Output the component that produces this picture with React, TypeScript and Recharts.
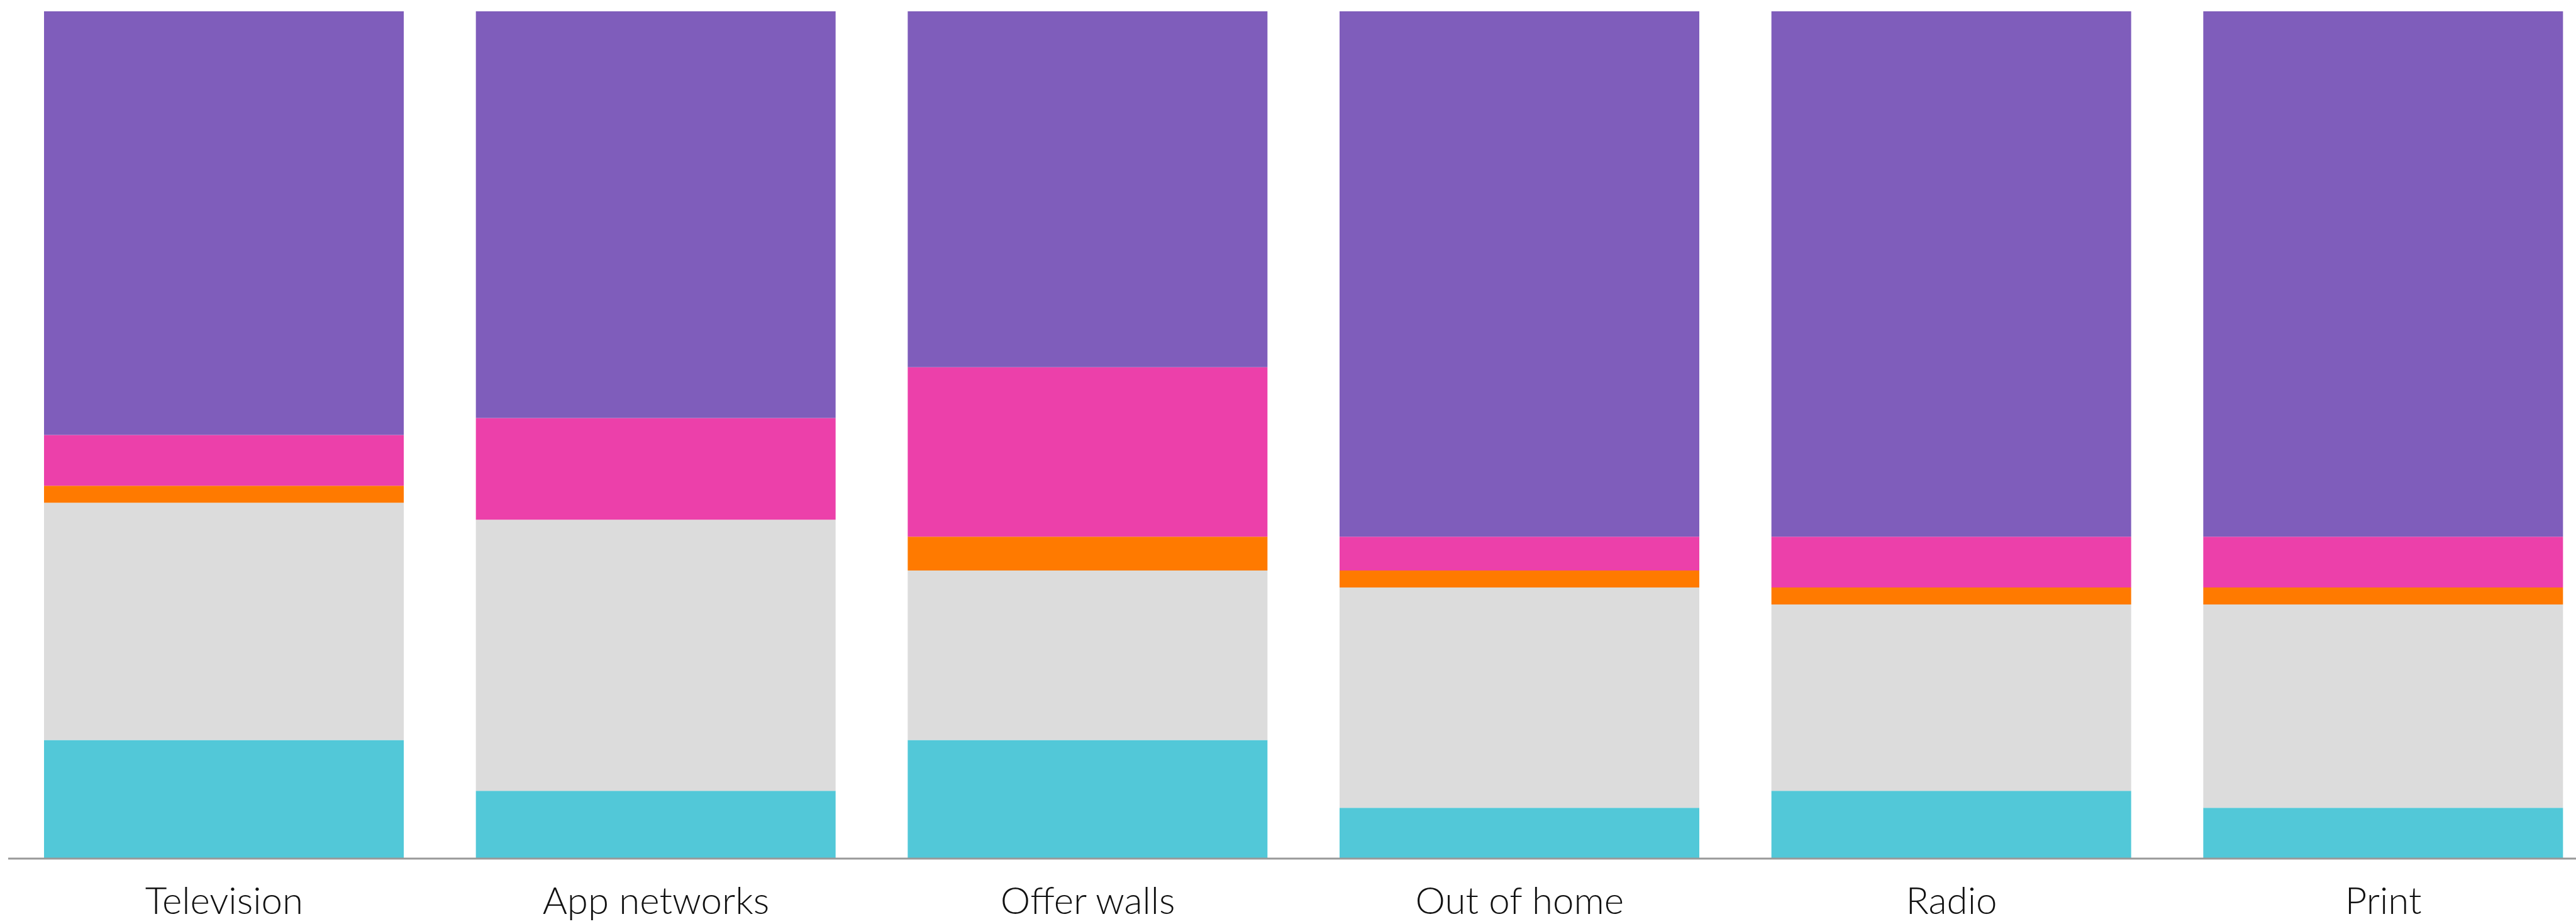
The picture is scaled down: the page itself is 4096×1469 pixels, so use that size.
import React from 'react';
import { BarChart, Bar, XAxis, YAxis } from 'recharts';

// channels along the x axis
const categories = ['Television', 'App networks', 'Offer walls', 'Out of home', 'Radio', 'Print'];

// stacked shares (percent), bottom to top
const cyanValues = [14, 8, 14, 6, 8, 6];
const grayValues = [28, 32, 20, 26, 22, 24];
const orangeValues = [2, 0, 4, 2, 2, 2];
const pinkValues = [6, 12, 20, 4, 6, 6];
const purpleValues = [50, 48, 42, 62, 62, 62];

const series = [
  { key: 'cyan', values: cyanValues, color: '#52C8D8' },
  { key: 'gray', values: grayValues, color: '#DCDCDC' },
  { key: 'orange', values: orangeValues, color: '#FF7A00' },
  { key: 'pink', values: pinkValues, color: '#EC40AA' },
  { key: 'purple', values: purpleValues, color: '#7F5DBB' },
];

const data = categories.map((name, i) => {
  const row: Record<string, string | number> = { name };
  series.forEach((s) => {
    row[s.key] = s.values[i];
  });
  return row;
});

const CategoryTick = (props: any) => {
  const { x, payload } = props;
  return (
    <text
      x={x}
      y={1453}
      textAnchor="middle"
      fill="#111"
      fontFamily="Lato, 'Open Sans', sans-serif"
      fontWeight={300}
      fontSize={60}
    >
      {payload.value}
    </text>
  );
};

export default function App() {
  return (
    <div style={{ position: 'absolute', left: 0, top: 0, width: 4096, height: 1469, overflow: 'hidden', background: '#fff' }}>
      <BarChart
        width={4133}
        height={1469}
        data={data}
        margin={{ top: 18, right: 0, bottom: 0, left: 13 }}
        barSize={572}
      >
        <XAxis
          dataKey="name"
          height={104}
          tickLine={false}
          axisLine={{ stroke: '#999', strokeWidth: 3 }}
          tick={<CategoryTick />}
          interval={0}
        />
        <YAxis hide domain={[0, 100]} />
        {series.map((s) => (
          <Bar key={s.key} dataKey={s.key} stackId="a" fill={s.color} isAnimationActive={false} />
        ))}
      </BarChart>
    </div>
  );
}
